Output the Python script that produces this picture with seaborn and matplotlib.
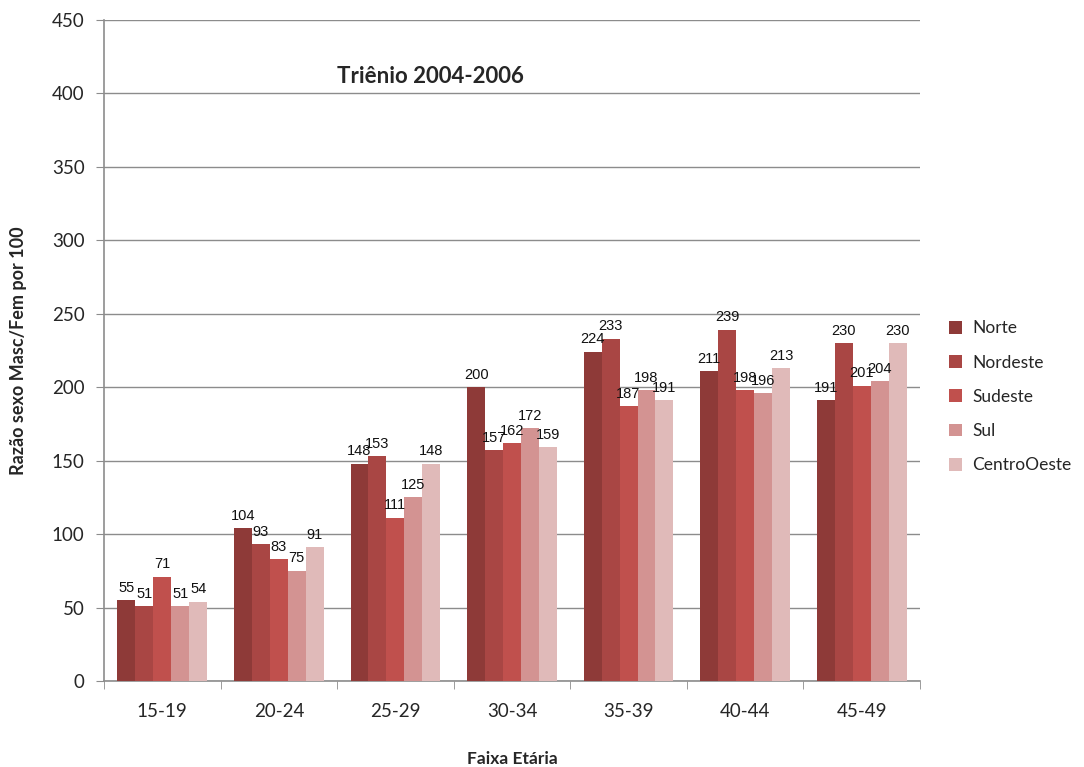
import matplotlib
matplotlib.use("Agg")
import matplotlib.pyplot as plt
import seaborn as sns
import pandas as pd

faixas = ["15-19", "20-24", "25-29", "30-34", "35-39", "40-44", "45-49"]
regioes = ["Norte", "Nordeste", "Sudeste", "Sul", "CentroOeste"]
norte = [55, 104, 148, 200, 224, 211, 191]
nordeste = [51, 93, 153, 157, 233, 239, 230]
sudeste = [71, 83, 111, 162, 187, 198, 201]
sul = [51, 75, 125, 172, 198, 196, 204]
centro_oeste = [54, 91, 148, 159, 191, 213, 230]
cores = ["#8E3A38", "#A94644", "#C0504D", "#D39392", "#E0BAB9"]

series = [norte, nordeste, sudeste, sul, centro_oeste]
df = pd.DataFrame(
    [(f, r, v) for r, vals in zip(regioes, series) for f, v in zip(faixas, vals)],
    columns=["Faixa", "Regiao", "Razao"],
)

sns.set_style("white")
plt.rcParams["font.family"] = ["Lato", "DejaVu Sans"]

fig = plt.figure(figsize=(10.84, 7.67), dpi=100)
ax = fig.add_axes([0.0959, 0.1121, 0.7528, 0.8618])

sns.barplot(data=df, x="Faixa", y="Razao", hue="Regiao", order=faixas,
            hue_order=regioes, palette=cores, width=0.77, gap=0,
            saturation=1, errorbar=None, ax=ax, zorder=3, linewidth=0)

# value labels above each bar
for cont in ax.containers:
    ax.bar_label(cont, labels=[f"{v:.0f}" for v in cont.datavalues],
                 padding=4, fontsize=10.5, family="Liberation Sans",
                 color="#111111")

ax.set_ylim(0, 450)
ax.set_xlim(-0.5, len(faixas) - 0.5)
ax.set_yticks(range(0, 451, 50))
ax.yaxis.grid(True, color="#8C8C8C", linewidth=1.0, zorder=0)
ax.set_axisbelow(True)

for side in ["top", "right"]:
    ax.spines[side].set_visible(False)
for side in ["left", "bottom"]:
    ax.spines[side].set_color("#8C8C8C")
    ax.spines[side].set_linewidth(1.2)

ax.tick_params(axis="y", direction="out", length=6, color="#8C8C8C",
               labelsize=13.5, pad=8, left=True)
ax.tick_params(axis="x", length=0, labelsize=13.5, pad=16)
# category boundary ticks on the x axis
ax.set_xticks([i - 0.5 for i in range(len(faixas) + 1)], minor=True)
ax.tick_params(axis="x", which="minor", direction="out", length=6,
               color="#8C8C8C", bottom=True)

ax.set_xlabel("Faixa Etária", fontsize=12.5, fontweight="bold", labelpad=22)
ax.set_ylabel("Razão sexo Masc/Fem por 100", fontsize=13, fontweight="bold",
              labelpad=18)

ax.text(0.4, 0.915, "Triênio 2004-2006", transform=ax.transAxes,
        fontsize=16, fontweight="bold", ha="center", va="center")

handles, labels = ax.get_legend_handles_labels()
ax.legend(handles, labels, loc="center left", bbox_to_anchor=(1.035, 0.43),
          borderaxespad=0, borderpad=0, frameon=False, fontsize=12.5,
          handlelength=0.75, handleheight=0.75, labelspacing=1.05,
          handletextpad=0.6, title=None)

fig.savefig("out.png", dpi=100)
